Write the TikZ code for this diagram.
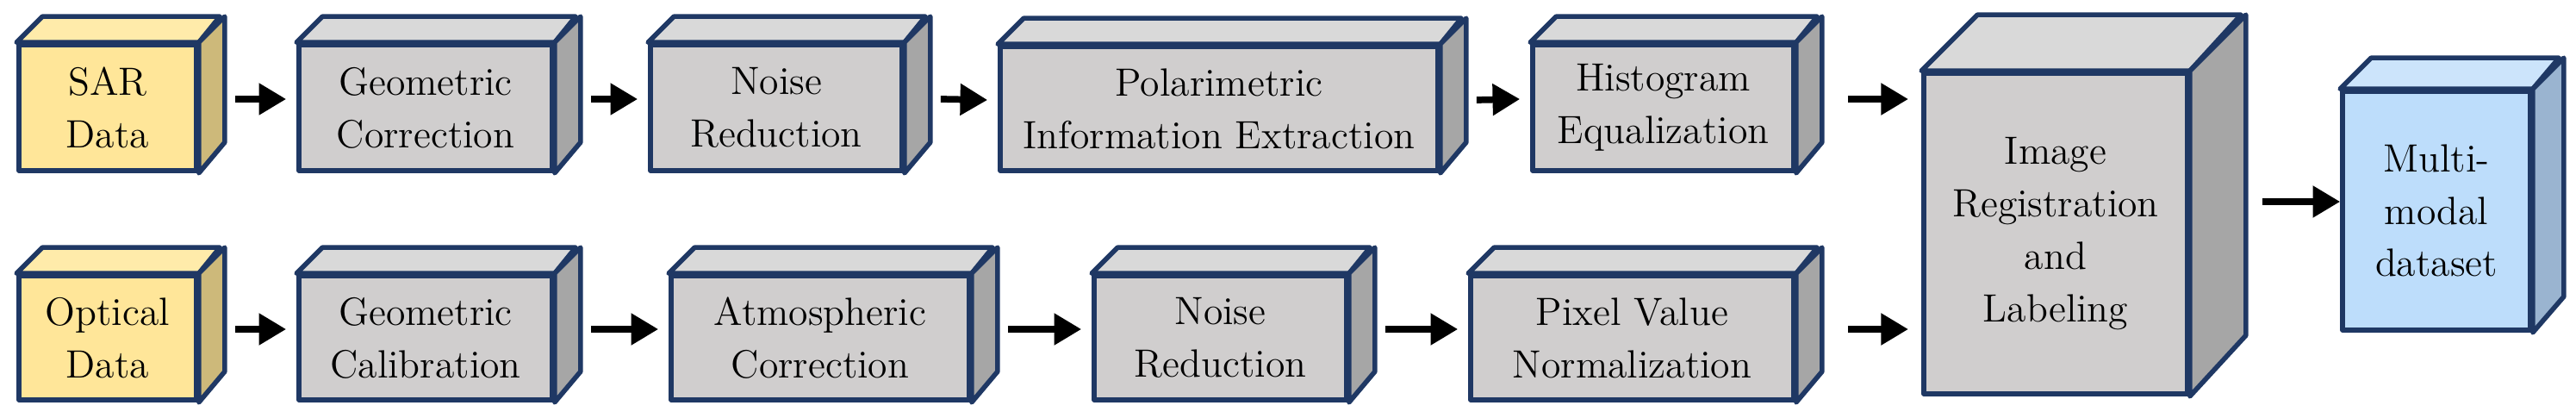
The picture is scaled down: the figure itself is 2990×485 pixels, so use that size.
\documentclass[tikz,border=0pt]{standalone}
\usetikzlibrary{arrows.meta}
\definecolor{edge}{HTML}{1F3864}
\definecolor{yfront}{HTML}{FFE699}
\definecolor{ytop}{HTML}{FFEBAA}
\definecolor{yside}{HTML}{CDB97A}
\definecolor{gfront}{HTML}{D0CECE}
\definecolor{gtop}{HTML}{D9D9D9}
\definecolor{gside}{HTML}{A6A6A6}
\definecolor{bfront}{HTML}{BDDDFB}
\definecolor{btop}{HTML}{CCE4FB}
\definecolor{bside}{HTML}{9AB4D0}
\tikzset{
  face/.style={draw=edge, line width=1.6pt, line join=round},
  frontbox/.style={face, inner sep=0pt},
  lbl/.style={align=center, font=\fontsize{13}{17.3}\selectfont},
  arr/.style={-{Triangle[length=9pt,width=10pt]}, line width=2.2pt, black}
}
\newcommand\mycube[9]{%
  \node[frontbox, fill=#7, minimum width={(#4-#2)*0.01cm}, minimum height={(#5-#3)*0.01cm}]
    (#1) at ({(#2+#4)/2},{(#3+#5)/2}) {};
  \draw[face, fill=#8] (#1.north west) -- ++(#6,-#6) -- ++({#4-#2},0) -- (#1.north east) -- cycle;
  \draw[face, fill=#9] (#1.north east) -- ++(#6,-#6) -- ++(0,{#5-#3}) -- (#1.south east) -- cycle;
}
\newcommand\mylabel[2]{\node[lbl] at (#1) {#2};}
\begin{document}
\begin{tikzpicture}[x=0.01cm, y=-0.01cm]
\useasboundingbox (0,0) rectangle (2990,485);
% row 1
\mycube{sar}{22}{52}{228}{198}{30}{yfront}{ytop}{yside}
\mycube{gc}{347}{52}{641}{198}{30}{gfront}{gtop}{gside}
\mycube{nr1}{755}{52}{1047}{198}{30}{gfront}{gtop}{gside}
\mycube{pie}{1161}{54}{1669}{198}{30}{gfront}{gtop}{gside}
\mycube{he}{1779}{52}{2082}{198}{30}{gfront}{gtop}{gside}
% row 2
\mycube{opt}{22}{320}{228}{464}{30}{yfront}{ytop}{yside}
\mycube{gcal}{347}{320}{641}{464}{30}{gfront}{gtop}{gside}
\mycube{ac}{779}{320}{1125}{464}{30}{gfront}{gtop}{gside}
\mycube{nr2}{1270}{320}{1563}{464}{30}{gfront}{gtop}{gside}
\mycube{pvn}{1707}{320}{2082}{464}{30}{gfront}{gtop}{gside}
% right
\mycube{irl}{2233}{85}{2539}{457}{65}{gfront}{gtop}{gside}
\mycube{mmd}{2719}{106}{2937}{383}{36}{bfront}{btop}{bside}
% labels
\mylabel{sar}{SAR\\Data}
\mylabel{gc}{Geometric\\Correction}
\mylabel{nr1}{Noise\\Reduction}
\mylabel{pie}{Polarimetric\\Information Extraction}
\mylabel{he}{Histogram\\Equalization}
\mylabel{opt}{Optical\\Data}
\mylabel{gcal}{Geometric\\Calibration}
\mylabel{ac}{Atmospheric\\Correction}
\mylabel{nr2}{Noise\\Reduction}
\mylabel{pvn}{Pixel Value\\Normalization}
\mylabel{irl}{Image\\Registration\\and\\Labeling}
\mylabel{mmd}{Multi-\\modal\\dataset}
% arrows
\foreach \a/\b in {sar/gc,gc/nr1,nr1/pie,pie/he,opt/gcal,gcal/ac,ac/nr2,nr2/pvn}{
  \draw[arr] ([xshift=0.42cm,yshift=0.1cm]\a.east) -- ([xshift=-0.12cm,yshift=0.1cm]\b.west);
}
\coordinate (t1) at (2215,115);
\coordinate (t2) at (2215,382);
\draw[arr] ([xshift=0.6cm]he.east |- t1) -- (t1);
\draw[arr] ([xshift=0.6cm]pvn.east |- t2) -- (t2);
\draw[arr] (2626,234) -- (mmd.west |- 0,234);
\end{tikzpicture}
\end{document}
